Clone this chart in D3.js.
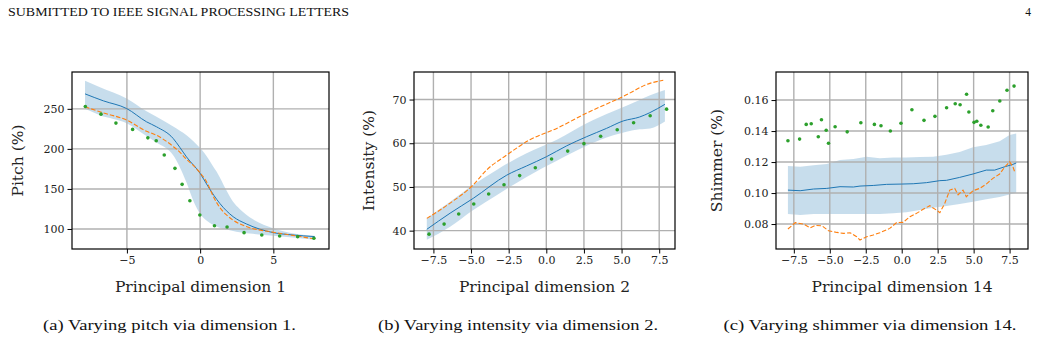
<!DOCTYPE html>
<html><head><meta charset="utf-8">
<script src="https://cdn.jsdelivr.net/npm/d3@7"></script>
<style>body{margin:0;background:#fff}svg{display:block}
.tm{font-family:"Liberation Serif","Times New Roman",Times,serif}
.ax{font-family:"DejaVu Serif",serif}</style>
</head><body>
<svg id="c" width="1040" height="340"></svg>
<script>
// ---------- Panel (a): pitch ----------
const pitchXTicks = [-5, 0, 5];
const pitchYTicks = [100, 150, 200, 250];
const pitchMeanX = [-7.86, -6.61, -5.02, -3.66, -2.98, -1.84, -1.39, -0.93, 0, 0.55, 1.34, 2.25, 3.16, 4.98, 6.34, 7.82];
const pitchMeanY = [268.7, 260, 250.4, 233.8, 227.6, 213, 202, 190, 169.4, 152.8, 132, 115.4, 106.3, 95.5, 92.5, 90.5];
const pitchBandX = [-7.86, -6.84, -5.02, -3.66, -2.98, -1.84, -0.93, -0.48, 0, 0.55, 0.89, 1.11, 1.8, 2.25, 2.7, 3.61, 4.98, 6.5, 7.82];
const pitchBandHi = [285, 277, 263, 247, 240, 228, 217, 210, 201, 188, 178, 172, 148, 134, 125, 112, 101, 94, 91.5];
const pitchBandLo = [250, 242, 232, 216, 208, 192, 158, 136, 119, 109, 105, 103, 99.5, 97.5, 96, 94, 91.5, 89, 86.5];
const pitchTargetX = [-7.86, -6.61, -5.02, -3.66, -2.98, -1.84, -1.39, -0.93, -0.5, 0, 0.3, 0.55, 0.89, 1.34, 1.8, 2.25, 3.16, 4.98, 6.34, 7.82];
const pitchTargetY = [252.5, 245, 236, 222, 217, 203, 196, 187, 180, 170, 163, 155, 141, 127, 117.5, 111, 103, 96, 92, 87.5];
const pitchDotX = [-7.84, -6.77, -5.75, -4.61, -3.57, -3.0, -2.45, -1.72, -1.23, -0.70, -0.02, 0.98, 1.84, 3.0, 4.21, 5.43, 6.66, 7.77];
const pitchDotY = [253, 243.4, 232.2, 224.3, 213.8, 210.1, 192.3, 175.7, 155.7, 135.3, 117.5, 104.1, 102.5, 95.4, 92.5, 91.3, 90.4, 88.4];

// ---------- Panel (b): intensity ----------
const intXTicks = [-7.5, -5, -2.5, 0, 2.5, 5, 7.5];
const intYTicks = [40, 50, 60, 70];
const intMeanX = [-7.94, -6.39, -4.85, -2.63, -1.31, 0, 1.35, 2.68, 4.0, 5.11, 6.2, 6.88, 7.88];
const intMeanY = [40.3, 44.0, 47.4, 52.7, 54.8, 56.9, 59.4, 61.5, 63.4, 65.1, 66.0, 67.0, 68.9];
const intBandX = [-7.94, -6.39, -4.85, -3.3, -1.31, 0.7, 2.68, 4.45, 6.2, 6.9, 7.88];
const intBandHi = [42.8, 46.6, 50.5, 53.9, 57.7, 60.8, 64.6, 67.3, 69.9, 71.0, 72.2];
const intBandLo = [37.9, 40.9, 44.7, 48.1, 52.3, 56.0, 59.4, 61.8, 63.2, 63.4, 65.0];
const intTargetX = [-7.94, -6.39, -4.85, -3.96, -2.63, -1.09, 0.69, 2.68, 5.11, 6.88, 7.77];
const intTargetY = [42.8, 46.3, 50.5, 53.9, 57.3, 60.8, 63.4, 66.9, 70.7, 73.7, 74.4];
const intDotX = [-7.79, -6.79, -5.82, -4.82, -3.83, -2.81, -1.77, -0.73, 0.35, 1.42, 2.50, 3.61, 4.71, 5.80, 6.90, 7.99];
const intDotY = [39.2, 41.5, 43.8, 46.1, 48.4, 50.5, 52.6, 54.4, 56.4, 58.2, 59.9, 61.6, 63.1, 64.7, 66.3, 67.8];

// ---------- Panel (c): shimmer ----------
const shimXTicks = [-7.5, -5, -2.5, 0, 2.5, 5, 7.5];
const shimYTicks = [0.08, 0.10, 0.12, 0.14, 0.16];
const shimMeanX = [-7.91, -7.06, -6.13, -5.21, -4.29, -3.36, -2.9, -1.98, -1.05, 0, 0.8, 1.72, 2.65, 3.11, 4.03, 4.96, 5.88, 6.46, 7.04, 7.73, 7.96];
const shimMeanY = [0.1019, 0.1015, 0.1026, 0.1030, 0.1041, 0.1039, 0.1045, 0.1049, 0.1056, 0.1058, 0.1060, 0.1067, 0.1080, 0.1082, 0.1101, 0.1123, 0.1148, 0.1148, 0.1166, 0.1185, 0.1194];
const shimBandX = [-7.91, -7.06, -6.13, -5.21, -4.29, -3.36, -2.44, -1.52, -0.59, 0.33, 1.26, 2.18, 3.11, 4.03, 4.96, 5.88, 6.81, 7.5, 7.96];
const shimBandHi = [0.1174, 0.1170, 0.1180, 0.1187, 0.1213, 0.1219, 0.1234, 0.1224, 0.1230, 0.1230, 0.1232, 0.1234, 0.1247, 0.1265, 0.1295, 0.1310, 0.1335, 0.1374, 0.1385];
const shimBandLo = [0.0865, 0.0858, 0.0865, 0.0865, 0.0865, 0.0865, 0.0865, 0.0865, 0.0870, 0.0876, 0.0890, 0.0905, 0.0916, 0.0930, 0.0944, 0.0960, 0.0975, 0.0990, 0.1002];
const shimTargetX = [-7.91, -7.4, -6.82, -6.36, -6.01, -5.55, -5.09, -4.51, -4.05, -3.59, -3.13, -2.9, -2.44, -1.98, -1.52, -0.83, -0.36, 0.1, 0.57, 1.03, 1.49, 1.95, 2.42, 2.65, 2.99, 3.34, 3.69, 3.92, 4.26, 4.49, 4.96, 5.42, 5.88, 6.34, 6.81, 7.15, 7.5, 7.73, 7.85];
const shimTargetY = [0.0768, 0.0809, 0.0800, 0.0776, 0.0791, 0.0789, 0.0757, 0.0746, 0.0740, 0.0744, 0.0718, 0.0697, 0.0718, 0.0729, 0.0744, 0.0772, 0.0809, 0.0811, 0.0847, 0.0869, 0.0895, 0.0918, 0.0890, 0.0873, 0.0933, 0.1019, 0.1030, 0.0989, 0.1019, 0.0976, 0.1015, 0.1030, 0.1058, 0.1095, 0.1123, 0.1166, 0.1202, 0.1170, 0.1138];
const shimDotX = [-7.91, -7.10, -6.64, -6.29, -5.80, -5.58, -5.25, -5.09, -4.63, -3.79, -2.84, -1.90, -1.44, -0.79, -0.05, 0.71, 1.55, 2.31, 3.12, 3.72, 4.06, 4.51, 4.67, 5.03, 5.22, 5.50, 6.01, 6.33, 6.82, 7.32, 7.81];
const shimDotY = [0.1337, 0.1348, 0.1443, 0.1447, 0.1363, 0.1473, 0.1405, 0.1321, 0.1428, 0.1395, 0.1454, 0.1443, 0.1434, 0.1400, 0.1450, 0.1537, 0.1469, 0.1495, 0.1550, 0.1576, 0.1570, 0.1637, 0.1523, 0.1456, 0.1463, 0.1437, 0.1426, 0.1531, 0.1594, 0.1663, 0.1690];

// ---------- Texts ----------
const headerText = "SUBMITTED TO IEEE SIGNAL PROCESSING LETTERS";
const pageNumber = "4";
const xLabels = ["Principal dimension 1", "Principal dimension 2", "Principal dimension 14"];
const yLabels = ["Pitch (%)", "Intensity (%)", "Shimmer (%)"];
const captions = ["(a) Varying pitch via dimension 1.", "(b) Varying intensity via dimension 2.", "(c) Varying shimmer via dimension 14."];

const zip = (xs, ys) => xs.map((x, i) => [x, ys[i]]);
const minus = s => s.replace(/-/g, "\u2212");

const panels = [
  { box: [72, 329, 72, 249], xd: [-8.75, 8.8], yd: [75, 296], xt: pitchXTicks, yt: pitchYTicks, smooth: true,
    xf: d => minus(d3.format("d")(d)), yf: d3.format("d"),
    mean: zip(pitchMeanX, pitchMeanY), band: pitchBandX.map((x, i) => [x, pitchBandLo[i], pitchBandHi[i]]),
    target: zip(pitchTargetX, pitchTargetY), dots: zip(pitchDotX, pitchDotY), ylx: 18, cap: [169.5, 253] },
  { box: [414, 675, 72, 249], xd: [-8.79, 8.55], yd: [35.8, 76.3], xt: intXTicks, yt: intYTicks, smooth: true,
    xf: d => minus(d3.format(".1f")(d)), yf: d3.format("d"),
    mean: zip(intMeanX, intMeanY), band: intBandX.map((x, i) => [x, intBandLo[i], intBandHi[i]]),
    target: zip(intTargetX, intTargetY), dots: zip(intDotX, intDotY), ylx: 369, cap: [518, 280] },
  { box: [776, 1028, 72, 249], xd: [-8.74, 8.78], yd: [0.0639, 0.1781], xt: shimXTicks, yt: shimYTicks, smooth: false,
    xf: d => minus(d3.format(".1f")(d)), yf: d3.format(".2f"),
    mean: zip(shimMeanX, shimMeanY), band: shimBandX.map((x, i) => [x, shimBandLo[i], shimBandHi[i]]),
    target: zip(shimTargetX, shimTargetY), dots: zip(shimDotX, shimDotY), ylx: 717, cap: [870, 293] }
];

const svg = d3.select("#c");

svg.append("text").attr("class", "tm").attr("x", 8).attr("y", 15.5).attr("font-size", 11.5)
  .attr("textLength", 341).attr("lengthAdjust", "spacingAndGlyphs").attr("fill", "#111").text(headerText);
svg.append("text").attr("class", "tm").attr("x", 1031).attr("y", 15.5).attr("text-anchor", "end")
  .attr("font-size", 11.5).attr("fill", "#111").text(pageNumber);

panels.forEach((p, k) => {
  const [l, r, t, b] = p.box;
  const x = d3.scaleLinear().domain(p.xd).range([l, r]);
  const y = d3.scaleLinear().domain(p.yd).range([b, t]);
  const curve = p.smooth ? d3.curveMonotoneX : d3.curveLinear;
  const g = svg.append("g");
  const clipId = "clip" + k;
  g.append("clipPath").attr("id", clipId).append("rect").attr("x", l).attr("y", t).attr("width", r - l).attr("height", b - t);
  const plot = g.append("g").attr("clip-path", `url(#${clipId})`);

  plot.append("path").datum(p.band)
    .attr("d", d3.area().curve(curve).x(d => x(d[0])).y0(d => y(d[1])).y1(d => y(d[2])))
    .attr("fill", "#1f77b4").attr("fill-opacity", 0.25);

  plot.selectAll(".gx").data(p.xt).join("line")
    .attr("x1", d => x(d)).attr("x2", d => x(d)).attr("y1", t).attr("y2", b)
    .attr("stroke", "#b0b0b0").attr("stroke-width", 1.4);
  plot.selectAll(".gy").data(p.yt).join("line")
    .attr("y1", d => y(d)).attr("y2", d => y(d)).attr("x1", l).attr("x2", r)
    .attr("stroke", "#b0b0b0").attr("stroke-width", 1.4);

  const line = d3.line().curve(curve).x(d => x(d[0])).y(d => y(d[1]));
  plot.append("path").datum(p.mean).attr("d", line).attr("fill", "none")
    .attr("stroke", "#1f77b4").attr("stroke-width", 1);
  plot.append("path").datum(p.target).attr("d", line).attr("fill", "none")
    .attr("stroke", "#ff7f0e").attr("stroke-width", 1.1).attr("stroke-dasharray", "4.5,2");
  plot.selectAll(".dot").data(p.dots).join("circle")
    .attr("cx", d => x(d[0])).attr("cy", d => y(d[1])).attr("r", 1.8).attr("fill", "#2ca02c");

  const xa = g.append("g").attr("transform", `translate(0,${b})`)
    .call(d3.axisBottom(x).tickValues(p.xt).tickFormat(p.xf).tickSize(4.5).tickPadding(3));
  const ya = g.append("g").attr("transform", `translate(${l},0)`)
    .call(d3.axisLeft(y).tickValues(p.yt).tickFormat(p.yf).tickSize(4.5).tickPadding(3));
  [xa, ya].forEach(a => {
    a.attr("font-family", null);
    a.select(".domain").remove();
    a.selectAll("line").attr("stroke", "#000").attr("stroke-width", 1);
    a.selectAll("text").attr("class", "ax").attr("font-size", 11).attr("fill", "#222");
  });
  g.append("rect").attr("x", l).attr("y", t).attr("width", r - l).attr("height", b - t)
    .attr("fill", "none").attr("stroke", "#000").attr("stroke-width", 1.2);

  g.append("text").attr("class", "ax").attr("x", (l + r) / 2).attr("y", 292).attr("text-anchor", "middle")
    .attr("font-size", 15.5).attr("fill", "#222").text(xLabels[k]);
  g.append("text").attr("class", "ax").attr("transform", `translate(${p.ylx},${(t + b) / 2}) rotate(-90)`)
    .attr("text-anchor", "middle").attr("dy", "0.35em")
    .attr("font-size", 15.5).attr("fill", "#222").text(yLabels[k]);

  svg.append("text").attr("class", "tm").attr("x", p.cap[0]).attr("y", 330).attr("text-anchor", "middle")
    .attr("font-size", 14.5).attr("fill", "#111")
    .attr("textLength", p.cap[1]).attr("lengthAdjust", "spacingAndGlyphs").text(captions[k]);
});
</script>
</body></html>
